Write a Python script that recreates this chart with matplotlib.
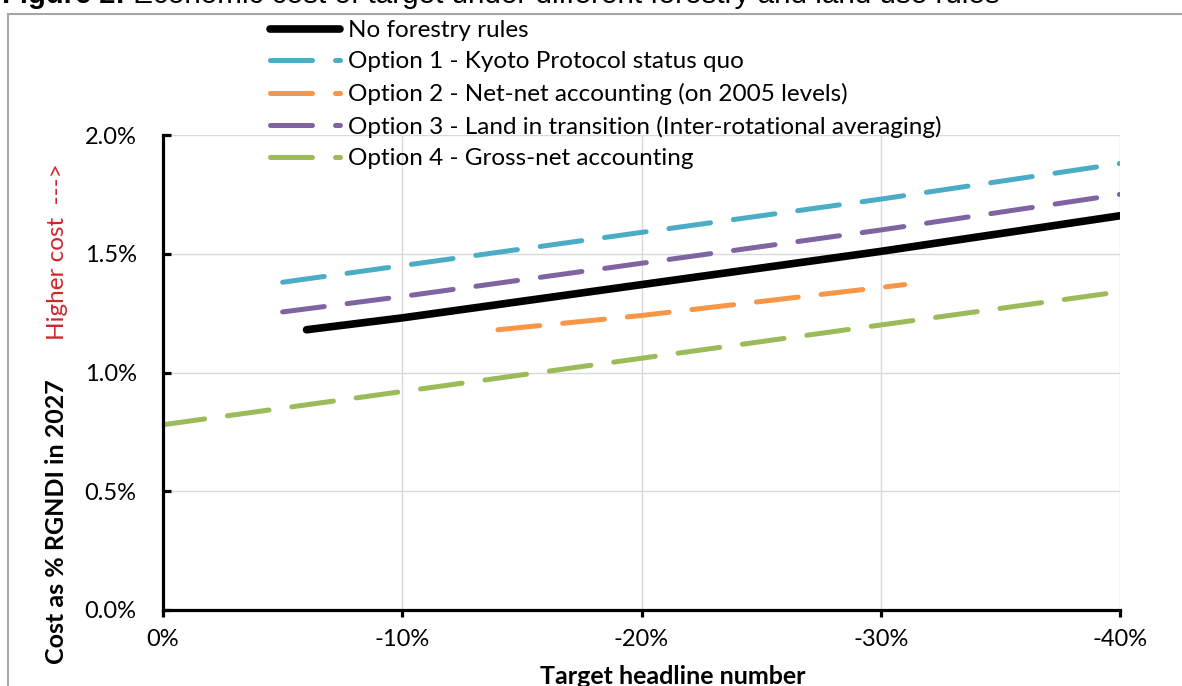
import matplotlib
matplotlib.use("Agg")
import matplotlib.pyplot as plt
from matplotlib.patches import Rectangle
from matplotlib.ticker import FuncFormatter

plt.rcParams['font.family'] = ['Lato', 'DejaVu Sans']

# Target headline number (% change) and cost as % RGNDI in 2027
x_none = [-6, -10, -20, -30, -40]
y_none = [1.18, 1.23, 1.37, 1.51, 1.66]

x_opt1 = [-5, -10, -20, -30, -40]
y_opt1 = [1.38, 1.45, 1.59, 1.73, 1.88]

x_opt2 = [-14, -20, -31]
y_opt2 = [1.18, 1.24, 1.37]

x_opt3 = [-5, -10, -20, -30, -40]
y_opt3 = [1.255, 1.32, 1.46, 1.60, 1.75]

x_opt4 = [0, -10, -20, -30, -40]
y_opt4 = [0.78, 0.92, 1.06, 1.20, 1.34]

labels = [
    "No forestry rules",
    "Option 1 - Kyoto Protocol status quo",
    "Option 2 - Net-net accounting (on 2005 levels)",
    "Option 3 - Land in transition (Inter-rotational averaging)",
    "Option 4 - Gross-net accounting",
]
x_ticks = [0, -10, -20, -30, -40]
y_ticks = [0.0, 0.5, 1.0, 1.5, 2.0]

W, H = 1182, 686
fig = plt.figure(figsize=(W / 100, H / 100), dpi=100)
ax = fig.add_axes([163 / W, 1 - 610 / H, (1120 - 163) / W, (610 - 135) / H])

dash_lw = 3.6
dash = (0, (8.4, 4.6))
common = dict(solid_capstyle='round', dash_capstyle='round', zorder=3)

handles = []
handles += ax.plot(x_none, y_none, color='black', lw=5.5, **common)
handles += ax.plot(x_opt1, y_opt1, color='#4BACC6', lw=dash_lw, linestyle=dash, **common)
handles += ax.plot(x_opt2, y_opt2, color='#F79646', lw=dash_lw, linestyle=dash, **common)
handles += ax.plot(x_opt3, y_opt3, color='#8064A2', lw=dash_lw, linestyle=dash, **common)
handles += ax.plot(x_opt4, y_opt4, color='#9BBB59', lw=dash_lw, linestyle=dash, **common)

ax.set_xlim(0, -40)
ax.set_ylim(0, 2.0)
ax.set_xticks(x_ticks)
ax.set_yticks(y_ticks)
ax.xaxis.set_major_formatter(FuncFormatter(lambda v, p: f"{v:.0f}%"))
ax.yaxis.set_major_formatter(FuncFormatter(lambda v, p: f"{v:.1f}%"))

ax.grid(True, color='#d9d9d9', lw=1.0, zorder=0)
ax.set_axisbelow(True)
for side in ('top', 'right'):
    ax.spines[side].set_visible(False)
for side in ('left', 'bottom'):
    ax.spines[side].set_linewidth(2.3)
    ax.spines[side].set_color('black')
    ax.spines[side].set_zorder(4)

ax.tick_params(axis='y', direction='in', length=6, width=2.3, pad=19, labelsize=17)
ax.tick_params(axis='x', direction='out', length=5, width=2.3, pad=9, labelsize=17)

# Axis titles
fig.text(673 / W, 1 - 676 / H, "Target headline number", ha='center', va='center',
         fontsize=18, fontweight='bold')
fig.text(57 / W, 1 - 522 / H, "Cost as % RGNDI in 2027", ha='center', va='center',
         rotation=90, fontsize=18, fontweight='bold')
fig.text(57 / W, 1 - 252 / H, "Higher cost  --->", ha='center', va='center',
         rotation=90, fontsize=17.5, color='#D0262C')

# Legend
fig.legend(handles, labels, loc='upper left', bbox_to_anchor=(270 / W, 1 - 20 / H),
           frameon=False, fontsize=17.5, handlelength=2.88, handletextpad=0.33,
           labelspacing=0.43, borderpad=0, borderaxespad=0)

# Figure caption and frame
t1 = fig.text(2 / W, 1 - 3 / H, "Figure 2:", ha='left', va='baseline',
              fontsize=21, fontweight='bold', family='Liberation Sans')
ax.annotate(" Economic cost of target under different forestry and land use rules",
            xy=(1, 0), xycoords=t1, ha='left', va='bottom',
            fontsize=21.3, family='Liberation Sans', annotation_clip=False)
fig.patches.append(Rectangle((8 / W, -0.1), 2.0, 1.1 - 14 / H, transform=fig.transFigure,
                             fill=False, edgecolor='#a6a6a6', lw=1.5))

fig.savefig("out.png", dpi=100)
